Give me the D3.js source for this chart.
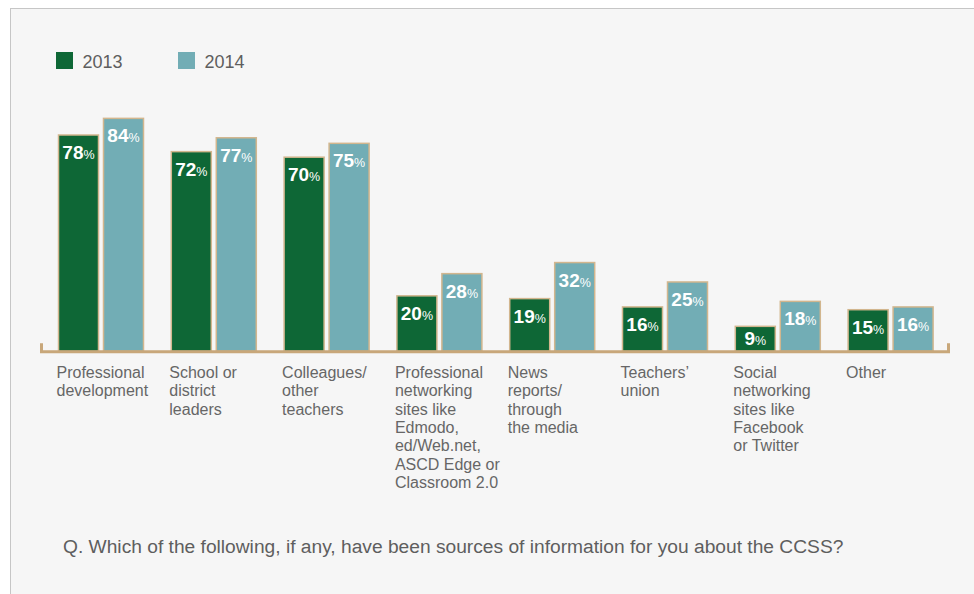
<!DOCTYPE html>
<html>
<head>
<meta charset="utf-8">
<script src="https://cdn.jsdelivr.net/npm/d3@7"></script>
<style>
  html, body { margin: 0; padding: 0; background: #ffffff; }
  svg { display: block; font-family: "Liberation Sans", Arial, sans-serif; }
</style>
</head>
<body>
<svg id="chart" width="974" height="594"></svg>
<script>
// Sources of information about the CCSS, share of respondents by year
const categories = [
  "Professional development",
  "School or district leaders",
  "Colleagues/ other teachers",
  "Professional networking sites like Edmodo, ed/Web.net, ASCD Edge or Classroom 2.0",
  "News reports/ through the media",
  "Teachers’ union",
  "Social networking sites like Facebook or Twitter",
  "Other"
];
const categoryLines = [
  ["Professional", "development"],
  ["School or", "district", "leaders"],
  ["Colleagues/", "other", "teachers"],
  ["Professional", "networking", "sites like", "Edmodo,", "ed/Web.net,", "ASCD Edge or", "Classroom 2.0"],
  ["News", "reports/", "through", "the media"],
  ["Teachers’", "union"],
  ["Social", "networking", "sites like", "Facebook", "or Twitter"],
  ["Other"]
];
const years = ["2013", "2014"];
const values2013 = [78, 72, 70, 20, 19, 16, 9, 15];
const values2014 = [84, 77, 75, 28, 32, 25, 18, 16];
const question = "Q. Which of the following, if any, have been sources of information for you about the CCSS?";

const colors = { "2013": "#0e6736", "2014": "#72adb5" };
const barStroke = "#d2b68e";
const axisColor = "#c8a77a";

const rows = categories.map((c, i) => ({
  category: c,
  lines: categoryLines[i],
  values: [
    { year: "2013", value: values2013[i] },
    { year: "2014", value: values2014[i] }
  ]
}));

const svg = d3.select("#chart");

// panel background and frame
svg.append("rect")
  .attr("x", 10.5).attr("y", 8.5)
  .attr("width", 980).attr("height", 600)
  .attr("fill", "#f6f6f6")
  .attr("stroke", "#c6c6c6")
  .attr("stroke-width", 1);

// scales
const x0 = d3.scaleBand().domain(categories).range([58, 960.4]).padding(0);
const x1 = d3.scaleBand().domain(years).range([0, 86]).paddingInner(0.0889).paddingOuter(0);
const y = d3.scaleLinear().domain([0, 100]).range([351.3, 74]);

// legend
const legend = svg.append("g");
const legendX = { "2013": 56, "2014": 178 };
years.forEach(yr => {
  legend.append("rect")
    .attr("x", legendX[yr]).attr("y", 52)
    .attr("width", 17).attr("height", 17)
    .attr("fill", colors[yr]);
  legend.append("text")
    .attr("x", legendX[yr] + 26.5).attr("y", 67.5)
    .attr("font-size", 18)
    .attr("fill", "#5e5e5e")
    .text(yr);
});

// bars
const groups = svg.append("g").selectAll("g")
  .data(rows).join("g")
  .attr("transform", d => `translate(${x0(d.category)},0)`);

groups.selectAll("rect")
  .data(d => d.values).join("rect")
  .attr("x", d => x1(d.year) + 0.5)
  .attr("y", d => y(d.value))
  .attr("width", x1.bandwidth() - 1)
  .attr("height", d => y(0) - y(d.value))
  .attr("fill", d => colors[d.year])
  .attr("stroke", barStroke)
  .attr("stroke-width", 1.5);

// value labels inside the bars
const labels = groups.selectAll("text.value")
  .data(d => d.values).join("text")
  .attr("class", "value")
  .attr("x", d => x1(d.year) + x1.bandwidth() / 2)
  .attr("y", d => Math.min(y(d.value) + 24, y(0) - 6.5))
  .attr("text-anchor", "middle")
  .attr("fill", "#ffffff");
labels.append("tspan")
  .attr("font-size", 19).attr("font-weight", "bold")
  .text(d => d.value);
labels.append("tspan")
  .attr("font-size", 12.5)
  .text("%");

// baseline with end ticks
const axisY = y(0) + 0.4;
svg.append("path")
  .attr("d", `M41.5,${axisY - 8.5}V${axisY}H948.5V${axisY - 8.5}`)
  .attr("fill", "none")
  .attr("stroke", axisColor)
  .attr("stroke-width", 3);

// category labels
groups.append("text")
  .attr("x", -1.5)
  .attr("y", 378)
  .attr("font-size", 16)
  .attr("fill", "#666666")
  .selectAll("tspan")
  .data(d => d.lines).join("tspan")
  .attr("x", -1.5)
  .attr("dy", (d, i) => i === 0 ? 0 : 18.3)
  .text(d => d);

// survey question
svg.append("text")
  .attr("x", 63).attr("y", 553)
  .attr("font-size", 19.2)
  .attr("fill", "#5e5e5e")
  .text(question);
</script>
</body>
</html>
